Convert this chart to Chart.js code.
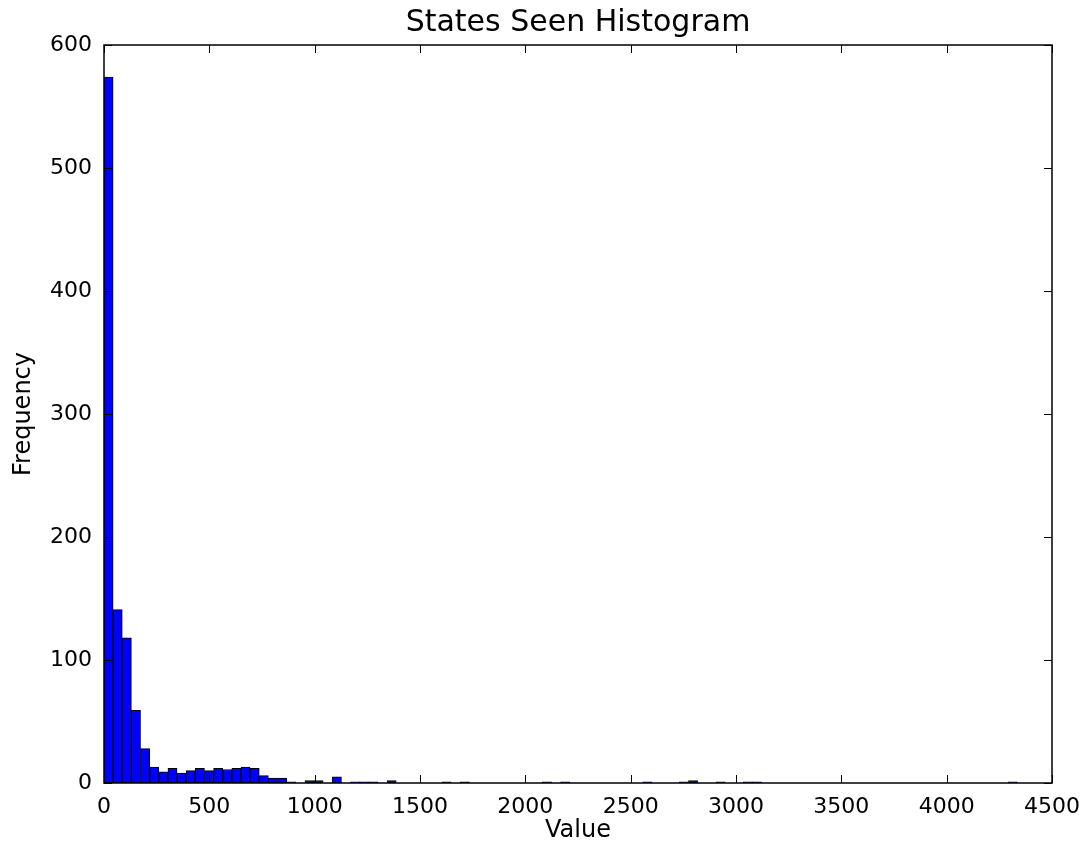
<!DOCTYPE html>
<html>
<head>
<meta charset="utf-8">
<script src="https://cdn.jsdelivr.net/npm/chart.js@4.4.1/dist/chart.umd.min.js"></script>
<style>
  html, body { margin: 0; padding: 0; background: #fff; }
</style>
</head>
<body>
<canvas id="hist" width="1087" height="845"></canvas>
<script>
// histogram bins: 100 equal bins starting at 0
const binStart = 0;
const binWidth = 43.35;
const counts = [
  574, 141, 118, 59, 28, 13, 9, 12, 8, 10,
  12, 10, 12, 11, 12, 13, 12, 6, 4, 4,
  1, 0, 2, 2, 0, 5, 0, 1, 1, 1,
  0, 2, 0, 0, 0, 0, 0, 1, 0, 1,
  0, 0, 0, 0, 0, 0, 0, 0, 1, 0,
  1, 0, 0, 0, 0, 0, 0, 0, 0, 1,
  0, 0, 0, 1, 2, 0, 0, 1, 0, 0,
  1, 1, 0, 0, 0, 0, 0, 0, 0, 0,
  0, 0, 0, 0, 0, 0, 0, 0, 0, 0,
  0, 0, 0, 0, 0, 0, 0, 0, 0, 1
];
const xTicks = [0, 500, 1000, 1500, 2000, 2500, 3000, 3500, 4000, 4500];
const yTicks = [0, 100, 200, 300, 400, 500, 600];

const font = 'DejaVu Sans';

// matplotlib style frame with inward ticks on all four sides
const frameTicks = {
  id: 'frameTicks',
  afterDatasetsDraw(chart) {
    const ctx = chart.ctx;
    const a = chart.chartArea;
    const x = chart.scales.x, y = chart.scales.y;
    const len = 8;
    ctx.save();
    ctx.strokeStyle = '#000';
    ctx.lineWidth = 1;
    ctx.beginPath();
    xTicks.forEach(v => {
      const px = Math.round(x.getPixelForValue(v)) + 0.5;
      ctx.moveTo(px, a.bottom); ctx.lineTo(px, a.bottom - len);
      ctx.moveTo(px, a.top); ctx.lineTo(px, a.top + len);
    });
    yTicks.forEach(v => {
      const py = Math.round(y.getPixelForValue(v)) + 0.5;
      ctx.moveTo(a.left, py); ctx.lineTo(a.left + len, py);
      ctx.moveTo(a.right, py); ctx.lineTo(a.right - len, py);
    });
    ctx.stroke();
    ctx.lineWidth = 1.5;
    ctx.strokeRect(a.left, a.top, a.right - a.left, a.bottom - a.top);
    ctx.restore();
  }
};

new Chart(document.getElementById('hist').getContext('2d'), {
  type: 'bar',
  data: {
    datasets: [{
      data: counts.map((c, i) => ({ x: binStart + (i + 0.5) * binWidth, y: c })),
      backgroundColor: '#0000ff',
      borderColor: '#000000',
      borderWidth: 1,
      borderSkipped: false,
      barPercentage: 1,
      categoryPercentage: 1
    }]
  },
  options: {
    responsive: false,
    animation: false,
    devicePixelRatio: 1,
    layout: { padding: { top: 0, right: 35, bottom: 0, left: 0 } },
    plugins: {
      legend: { display: false },
      tooltip: { enabled: false },
      title: {
        display: true,
        text: 'States Seen Histogram',
        color: '#000',
        fullSize: false,
        font: { family: font, size: 30, weight: 'normal' },
        padding: { top: 5, bottom: 4 }
      }
    },
    scales: {
      x: {
        type: 'linear',
        min: 0,
        max: 4500,
        offset: false,
        grid: { display: false, offset: false },
        border: { display: false },
        afterFit(scale) { scale.height = 62; },
        afterBuildTicks(scale) { scale.ticks = xTicks.map(v => ({ value: v })); },
        ticks: {
          color: '#000',
          padding: 3,
          maxRotation: 0,
          autoSkip: false,
          font: { family: font, size: 22 },
          callback: v => String(v)
        },
        title: {
          display: true,
          text: 'Value',
          color: '#000',
          font: { family: font, size: 24 },
          padding: { top: 0, bottom: 0 }
        }
      },
      y: {
        min: 0,
        max: 600,
        grid: { display: false },
        border: { display: false },
        afterFit(scale) { scale.width = 104; },
        afterBuildTicks(scale) { scale.ticks = yTicks.map(v => ({ value: v })); },
        ticks: {
          color: '#000',
          padding: 4,
          font: { family: font, size: 22 },
          callback: v => String(v)
        },
        title: {
          display: true,
          text: 'Frequency',
          color: '#000',
          font: { family: font, size: 24 },
          padding: { top: 9.6, bottom: 0 }
        }
      }
    }
  },
  plugins: [frameTicks]
});
</script>
</body>
</html>
